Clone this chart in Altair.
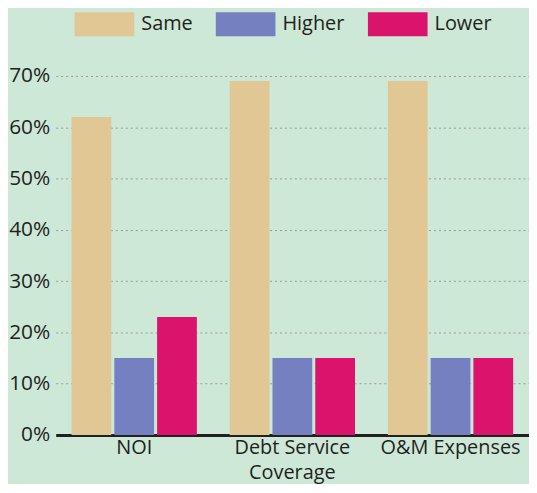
import altair as alt
import pandas as pd

categories = ["NOI", "Debt Service Coverage", "O&M Expenses"]
series = ["Same", "Higher", "Lower"]
same_vals = [0.62, 0.69, 0.69]
higher_vals = [0.15, 0.15, 0.15]
lower_vals = [0.23, 0.15, 0.15]
colors = ["#e0c794", "#7480bf", "#dc136c"]
y_ticks = [0, 0.1, 0.2, 0.3, 0.4, 0.5, 0.6, 0.7]

rows = []
for i, c in enumerate(categories):
    for s, vals in zip(series, [same_vals, higher_vals, lower_vals]):
        rows.append({"category": c, "series": s, "value": vals[i]})
df = pd.DataFrame(rows)

FONT = "Open Sans"
TXT = "#231f20"

chart = alt.Chart(df).mark_bar().encode(
    x=alt.X("category:N", sort=categories, title=None,
            scale=alt.Scale(paddingInner=0.2075, paddingOuter=0.1),
            axis=alt.Axis(labelAngle=0, ticks=False, domainColor=TXT, domainWidth=3,
                          labelFont=FONT, labelFontSize=20, labelColor=TXT,
                          labelPadding=3, labelLineHeight=25,
                          labelExpr="datum.value == 'Debt Service Coverage' ? ['Debt Service', 'Coverage'] : datum.value")),
    xOffset=alt.XOffset("series:N", sort=series, scale=alt.Scale(paddingInner=0.07, paddingOuter=0)),
    y=alt.Y("value:Q", title=None,
            scale=alt.Scale(domain=[0, 0.7], nice=False),
            axis=alt.Axis(format=".0%", values=y_ticks, ticks=False, domain=False,
                          labelFont=FONT, labelFontSize=21, labelColor=TXT, labelPadding=6,
                          gridColor="#999999", gridDash=[2, 3], gridWidth=1)),
    color=alt.Color("series:N", sort=series,
                    scale=alt.Scale(domain=series, range=colors),
                    legend=alt.Legend(title=None, orient="none", direction="horizontal",
                                      legendX=19, legendY=-64,
                                      symbolType="M-1,-1H4V1H-1Z", symbolSize=576,
                                      symbolOpacity=1, symbolStrokeWidth=0,
                                      labelFont=FONT, labelFontSize=20, labelColor=TXT,
                                      labelOffset=43, columnPadding=23)),
).properties(
    width=476, height=361,
    background="#cde8d7",
    padding={"left": 0, "top": 3, "right": 0, "bottom": 0},
).configure_view(stroke=None)

chart.save("out.html", embed_options={"renderer": "svg", "actions": False})
